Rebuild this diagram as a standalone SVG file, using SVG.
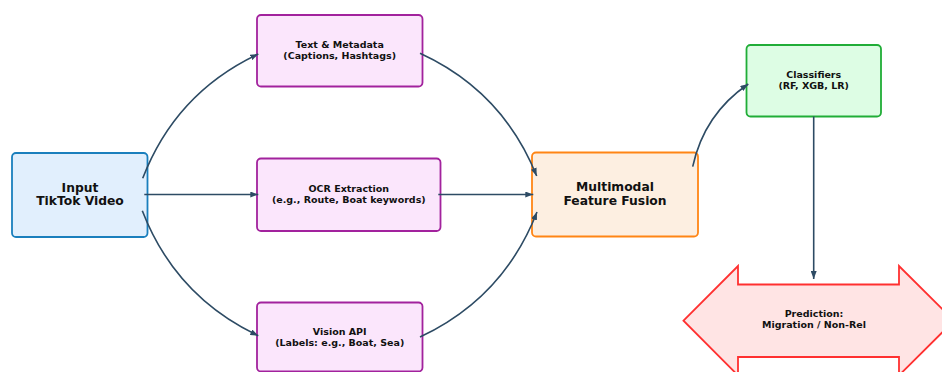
<svg xmlns="http://www.w3.org/2000/svg" width="942" height="372" viewBox="0 0 942 372">
<style>
  .box { stroke-width: 1.8; }
  .blue { fill: #e1effd; stroke: #1a7fbd; }
  .purple { fill: #fbe6fc; stroke: #a2229d; }
  .orange { fill: #fdefe1; stroke: #ff8515; }
  .green { fill: #ddfde4; stroke: #20ad37; }
  .red { fill: #ffe4e4; stroke: #ff3030; stroke-width: 1.8; }
  .big { font-family: "DejaVu Sans", sans-serif; font-weight: bold; font-size: 12.3px; fill: #111; text-anchor: middle; }
  .small { font-family: "DejaVu Sans", sans-serif; font-weight: bold; font-size: 9.5px; fill: #111; text-anchor: middle; }
  .conn { fill: none; stroke: #2d4b64; stroke-width: 1.6; marker-end: url(#ah); }
</style>
<defs>
  <marker id="ah" markerUnits="userSpaceOnUse" markerWidth="8" markerHeight="6" refX="8" refY="3" orient="auto">
    <path d="M0,0 L8,3 L0,6 z" fill="#2d4b64"/>
  </marker>
</defs>
<rect width="942" height="372" fill="#ffffff"/>

<g id="input">
  <rect class="box blue" x="12" y="153" width="135.5" height="84" rx="4"/>
  <text class="big" x="80" y="191.5">Input</text>
  <text class="big" x="80" y="205">TikTok Video</text>
</g>
<g id="text-metadata">
  <rect class="box purple" x="257" y="15" width="165.5" height="71.5" rx="4"/>
  <text class="small" x="339.7" y="47.7">Text &amp; Metadata</text>
  <text class="small" x="339.7" y="59.3">(Captions, Hashtags)</text>
</g>
<g id="ocr">
  <rect class="box purple" x="257" y="158.5" width="183.5" height="72.5" rx="4"/>
  <text class="small" x="348.8" y="191.7">OCR Extraction</text>
  <text class="small" x="348.8" y="203.3">(e.g., Route, Boat keywords)</text>
</g>
<g id="vision">
  <rect class="box purple" x="257" y="302.5" width="165.5" height="69" rx="4"/>
  <text class="small" x="339.7" y="334.5">Vision API</text>
  <text class="small" x="339.7" y="346.1">(Labels: e.g., Boat, Sea)</text>
</g>
<g id="fusion">
  <rect class="box orange" x="532" y="152.5" width="166" height="84" rx="4"/>
  <text class="big" x="615" y="191">Multimodal</text>
  <text class="big" x="615" y="204.5">Feature Fusion</text>
</g>
<g id="classifiers">
  <rect class="box green" x="746.5" y="45" width="134.5" height="71.5" rx="4"/>
  <text class="small" x="813.7" y="77.7">Classifiers</text>
  <text class="small" x="813.7" y="89.3">(RF, XGB, LR)</text>
</g>
<g id="prediction">
  <polygon class="red" points="683.5,320.7 738,266 738,284.5 899,284.5 899,266 954,320.7 899,375.4 899,357 738,357 738,375.4"/>
  <text class="small" x="814" y="316.7">Prediction:</text>
  <text class="small" x="814" y="328.3">Migration / Non-Rel</text>
</g>

<g id="connectors">
  <path class="conn" d="M142.7,178.3 Q175.7,92.8 258.3,54"/>
  <path class="conn" d="M144.3,194.5 L258.3,194.5"/>
  <path class="conn" d="M142.3,210.7 Q175.3,296.4 258.3,335.7"/>
  <path class="conn" d="M420,53.3 Q502.8,91.3 536.7,176"/>
  <path class="conn" d="M438.3,194.5 L533.3,194.5"/>
  <path class="conn" d="M420,337 Q503.5,297.9 537,212"/>
  <path class="conn" d="M692.7,166.7 Q704,114.2 748.3,84"/>
  <path class="conn" d="M813.7,116.5 L813.7,279"/>
</g>
</svg>
